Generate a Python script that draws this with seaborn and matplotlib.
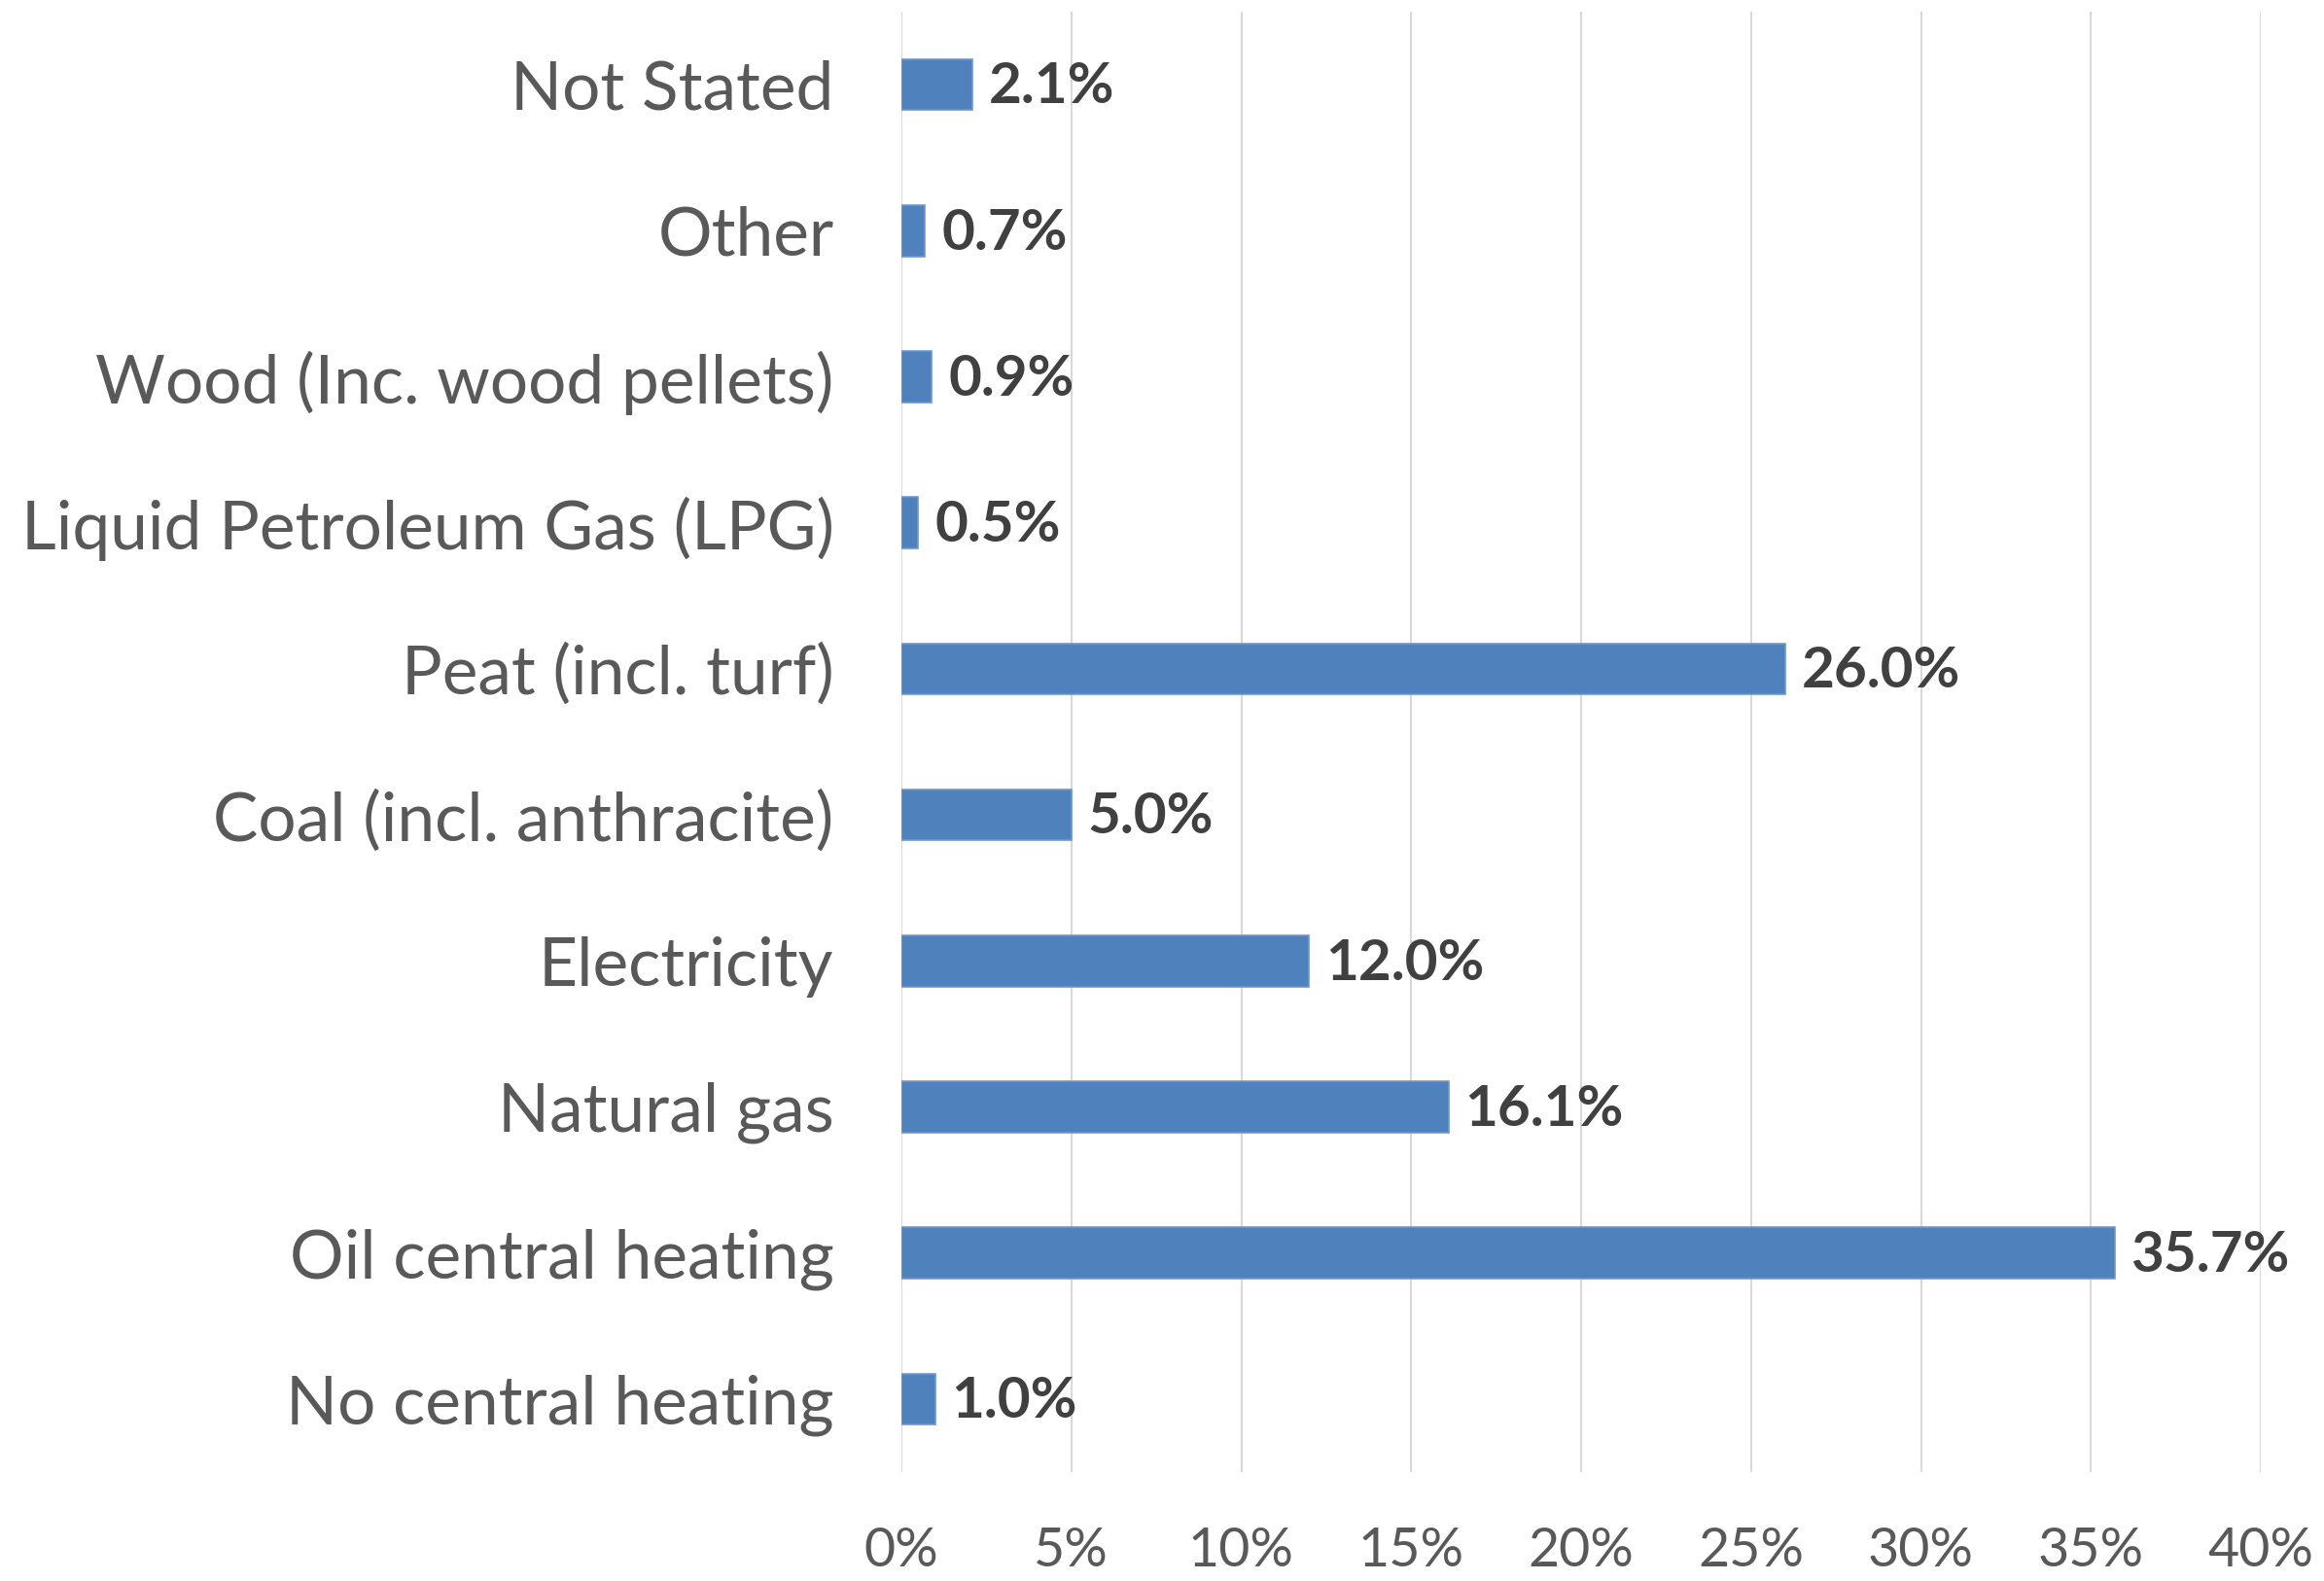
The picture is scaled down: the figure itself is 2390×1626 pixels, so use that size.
import matplotlib
matplotlib.use("Agg")
import matplotlib.pyplot as plt
import seaborn as sns
import pandas as pd

categories = ["Not Stated", "Other", "Wood (Inc. wood pellets)", "Liquid Petroleum Gas (LPG)",
              "Peat (incl. turf)", "Coal (incl. anthracite)", "Electricity", "Natural gas",
              "Oil central heating", "No central heating"]
values = [2.1, 0.7, 0.9, 0.5, 26.0, 5.0, 12.0, 16.1, 35.7, 1.0]
xticks = [0, 5, 10, 15, 20, 25, 30, 35, 40]
xticklabels = ["0%", "5%", "10%", "15%", "20%", "25%", "30%", "35%", "40%"]

sns.set_theme(style="white")
plt.rcParams['font.family'] = ['Lato', 'DejaVu Sans']

df = pd.DataFrame({"cat": categories, "val": values})

fig = plt.figure(figsize=(23.9, 16.26), dpi=100)
ax = fig.add_axes([927/2390, 1 - 1514/1626, (2325-927)/2390, (1514-12)/1626])

sns.barplot(data=df, x="val", y="cat", orient="h", color="#4F81BD", saturation=1,
            width=0.35, edgecolor="#6F97CC", linewidth=1.2, ax=ax, zorder=3)

ax.set_xlim(0, 40)
ax.set_ylim(len(categories) - 0.5, -0.5)
ax.set_xticks(xticks)
ax.set_xticklabels(xticklabels)
ax.set_xlabel("")
ax.set_ylabel("")
ax.grid(axis="x", color="#D9D9D9", linewidth=1.5, zorder=0)
ax.set_axisbelow(True)
for s in ax.spines.values():
    s.set_visible(False)
ax.tick_params(axis="y", length=0, pad=50, labelsize=50, labelcolor="#595959")
ax.tick_params(axis="x", length=0, pad=40, labelsize=40, labelcolor="#595959")

for i, v in enumerate(values):
    ax.annotate(f"{v:.1f}%", xy=(v, i), xytext=(12, -2), textcoords="offset points",
                va="center", ha="left", fontsize=42, fontweight="bold", color="#404040")

fig.savefig("out.png", dpi=100)
